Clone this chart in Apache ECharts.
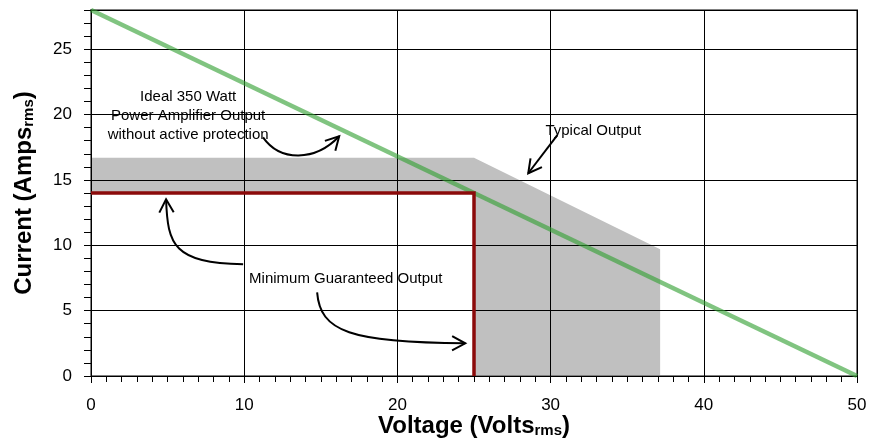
<!DOCTYPE html>
<html><head><meta charset="utf-8">
<script src="https://cdn.jsdelivr.net/npm/echarts@6/dist/echarts.min.js"></script>
<style>html,body{margin:0;padding:0;background:#fff}#c{width:872px;height:445px}</style>
</head><body><div id="c"></div>
<script>
// ---- data ----
const xTicks = [0, 10, 20, 30, 40, 50];
const yTicks = [0, 5, 10, 15, 20, 25];
const yMax = 28;
// Ideal 350 W amplifier output (straight line)
const idealV = [0, 50];
const idealI = [28, 0];
// Minimum guaranteed output (red)
const minV = [0, 25, 25];
const minI = [14, 14, 0];
// Typical output region (gray polygon)
const typV = [0, 25, 37.15, 37.15, 25, 25, 0];
const typI = [16.7, 16.7, 9.7, 0, 0, 14, 14];
// annotations (data units)
const noteIdeal = { text: 'Ideal 350 Watt\nPower Amplifier Output\nwithout active protection', at: [6.34, 19.87] };
const noteTyp = { text: 'Typical Output', at: [32.79, 18.78] };
const noteMin = { text: 'Minimum Guaranteed Output', at: [10.32, 7.4] };
const arrowIdeal = [[11.23, 18.26], [12.34, 16.4], [14.63, 16.4], [16.2, 18.34]];
const arrowTyp = [[30.44, 18.42], [28.54, 15.51]];
const arrowMinUp = [[9.93, 8.55], [5.4, 8.65], [5.0, 10.0], [4.9, 13.52]];
const arrowMinRight = [[14.76, 6.4], [14.96, 3.4], [16.92, 2.55], [24.43, 2.5]];

const FONT = 'Liberation Sans, Arial, sans-serif';
const chart = echarts.init(document.getElementById('c'), null, { renderer: 'canvas' });

const pair = (xs, ys) => xs.map((v, i) => [v, ys[i]]);

const option = {
  animation: false,
  backgroundColor: '#fff',
  grid: { left: 91, right: 15, top: 10, bottom: 69, show: true, borderColor: '#808080', borderWidth: 2, backgroundColor: 'transparent', containLabel: false, outerBoundsMode: 'none' },
  xAxis: {
    type: 'value', min: xTicks[0], max: xTicks[xTicks.length - 1], interval: xTicks[1] - xTicks[0],
    name: '{b|Voltage (Volts}{s|rms}{b|)}', nameLocation: 'middle', nameGap: 38, nameMoveOverlap: false,
    nameTextStyle: { color: '#000', fontFamily: FONT, rich: {
      b: { fontSize: 24, fontWeight: 'bold', fontFamily: FONT, color: '#000' },
      s: { fontSize: 15, fontWeight: 'bold', fontFamily: FONT, color: '#000', verticalAlign: 'bottom' } } },
    axisLine: { show: true, lineStyle: { color: '#000', width: 1 } },
    axisTick: { show: true, length: 7, lineStyle: { color: '#000' } },
    minorTick: { show: true, splitNumber: 10, length: 6, lineStyle: { color: '#000' } },
    axisLabel: { color: '#000', fontFamily: FONT, fontSize: 17, margin: 21 },
    splitLine: { show: true, lineStyle: { color: '#000', width: 1 } },
    minorSplitLine: { show: false }
  },
  yAxis: [{
    type: 'value', min: yTicks[0], max: yMax, interval: yTicks[1] - yTicks[0],
    name: '{b|Current (Amps}{s|rms}{b|)}', nameLocation: 'middle', nameGap: 55, nameMoveOverlap: false,
    nameTextStyle: { color: '#000', fontFamily: FONT, rich: {
      b: { fontSize: 24, fontWeight: 'bold', fontFamily: FONT, color: '#000' },
      s: { fontSize: 15, fontWeight: 'bold', fontFamily: FONT, color: '#000', verticalAlign: 'bottom' } } },
    axisLine: { show: true, lineStyle: { color: '#000', width: 1 } },
    axisTick: { show: false },
    axisLabel: { color: '#000', fontFamily: FONT, fontSize: 17, margin: 19, showMaxLabel: false,
      formatter: v => (yTicks.indexOf(v) >= 0 ? String(v) : '') },
    splitLine: { show: true, lineStyle: { color: '#000', width: 1 } }
  }, {
    type: 'value', min: yTicks[0], max: yMax, interval: 1, position: 'left',
    axisLine: { show: false }, axisLabel: { show: false }, splitLine: { show: false },
    axisTick: { show: true, length: 7, lineStyle: { color: '#000' } }
  }],
  series: [
    {
      type: 'custom', z: -1, xAxisIndex: 0, yAxisIndex: 0,
      data: pair(typV, typI),
      renderItem: (params, api) => {
        if (params.dataIndex !== 0) return null;
        const pts = typV.map((v, i) => api.coord([v, typI[i]]));
        return { type: 'polygon', shape: { points: pts }, style: { fill: '#c0c0c0', stroke: null } };
      },
      silent: true
    },
    {
      type: 'line', data: pair(idealV, idealI), showSymbol: false, symbol: 'none',
      lineStyle: { color: 'rgba(50,160,50,0.62)', width: 4.5 }, z: 3
    },
    {
      type: 'line', data: pair(minV, minI), showSymbol: false, symbol: 'none',
      lineStyle: { color: '#8b0a0a', width: 3.5, join: 'miter' }, z: 4
    }
  ]
};
chart.setOption(option);

// ---- annotations ----
const px = d => chart.convertToPixel({ seriesIndex: 1 }, d);
const els = [];
const LW = 2;
function arrowHead(tip, from) {
  const ang = Math.atan2(tip[1] - from[1], tip[0] - from[0]);
  const L = 15, a = 0.5;
  const p1 = [tip[0] - L * Math.cos(ang - a), tip[1] - L * Math.sin(ang - a)];
  const p2 = [tip[0] - L * Math.cos(ang + a), tip[1] - L * Math.sin(ang + a)];
  els.push({ type: 'polyline', z: 100, shape: { points: [p1, tip, p2] }, style: { stroke: '#000', lineWidth: LW, fill: null } });
}
function bez(pts) {
  const p = pts.map(px);
  els.push({ type: 'bezierCurve', z: 100, shape: { x1: p[0][0], y1: p[0][1], cpx1: p[1][0], cpy1: p[1][1], cpx2: p[2][0], cpy2: p[2][1], x2: p[3][0], y2: p[3][1] },
    style: { stroke: '#000', lineWidth: LW, fill: null } });
  arrowHead(p[3], p[2]);
}
function straight(pts) {
  const p = pts.map(px);
  els.push({ type: 'line', z: 100, shape: { x1: p[0][0], y1: p[0][1], x2: p[1][0], y2: p[1][1] }, style: { stroke: '#000', lineWidth: LW } });
  arrowHead(p[1], p[0]);
}
function note(n, align) {
  const p = px(n.at);
  els.push({ type: 'text', z: 100, x: p[0], y: p[1], style: { text: n.text, fontSize: 15, fontFamily: FONT, fill: '#000', align: align, verticalAlign: 'middle', lineHeight: 19 } });
}
bez(arrowIdeal);
straight(arrowTyp);
bez(arrowMinUp);
bez(arrowMinRight);
note(noteIdeal, 'center');
note(noteTyp, 'center');
note(noteMin, 'left');
chart.setOption({ graphic: { elements: els } });
</script>
</body></html>
